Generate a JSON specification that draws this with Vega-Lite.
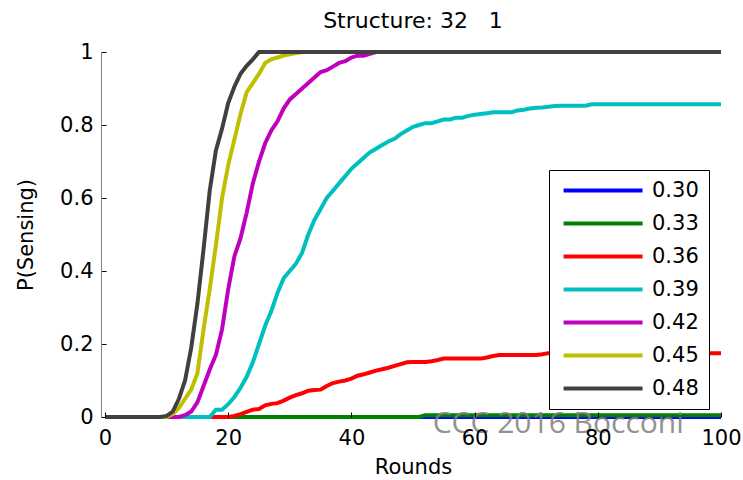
{
  "$schema": "https://vega.github.io/schema/vega-lite/v6.json",
  "autosize": {"type": "none"},
  "padding": {"left": 105, "top": 52, "right": 22, "bottom": 63},
  "width": 616,
  "height": 365,
  "background": "white",
  "title": {"text": "Structure: 32\u00a0\u00a0\u00a01", "font": "DejaVu Sans", "fontSize": 22, "fontWeight": "normal", "color": "black", "offset": 8, "anchor": "middle"},
  "config": {"view": {"stroke": null}, "font": "DejaVu Sans"},
  "layer": [
    {
      "data": {"values": [
        {"s": "0.30", "r": 0, "p": 0}, {"s": "0.30", "r": 50, "p": 0}, {"s": "0.30", "r": 100, "p": 0},
        {"s": "0.33", "r": 0, "p": 0}, {"s": "0.33", "r": 51, "p": 0}, {"s": "0.33", "r": 52, "p": 0.005}, {"s": "0.33", "r": 100, "p": 0.005},
        {"s": "0.36", "r": 0, "p": 0}, {"s": "0.36", "r": 20, "p": 0}, {"s": "0.36", "r": 21, "p": 0.003}, {"s": "0.36", "r": 22, "p": 0.008}, {"s": "0.36", "r": 23, "p": 0.014}, {"s": "0.36", "r": 24, "p": 0.02}, {"s": "0.36", "r": 25, "p": 0.022}, {"s": "0.36", "r": 26, "p": 0.032}, {"s": "0.36", "r": 27, "p": 0.036}, {"s": "0.36", "r": 28, "p": 0.038}, {"s": "0.36", "r": 29, "p": 0.045}, {"s": "0.36", "r": 30, "p": 0.053}, {"s": "0.36", "r": 31, "p": 0.06}, {"s": "0.36", "r": 32, "p": 0.065}, {"s": "0.36", "r": 33, "p": 0.072}, {"s": "0.36", "r": 34, "p": 0.074}, {"s": "0.36", "r": 35, "p": 0.075}, {"s": "0.36", "r": 36, "p": 0.085}, {"s": "0.36", "r": 37, "p": 0.093}, {"s": "0.36", "r": 38, "p": 0.097}, {"s": "0.36", "r": 39, "p": 0.1}, {"s": "0.36", "r": 40, "p": 0.105}, {"s": "0.36", "r": 41, "p": 0.113}, {"s": "0.36", "r": 42, "p": 0.117}, {"s": "0.36", "r": 43, "p": 0.122}, {"s": "0.36", "r": 44, "p": 0.127}, {"s": "0.36", "r": 45, "p": 0.131}, {"s": "0.36", "r": 46, "p": 0.135}, {"s": "0.36", "r": 47, "p": 0.14}, {"s": "0.36", "r": 48, "p": 0.145}, {"s": "0.36", "r": 49, "p": 0.15}, {"s": "0.36", "r": 50, "p": 0.151}, {"s": "0.36", "r": 52, "p": 0.151}, {"s": "0.36", "r": 53, "p": 0.153}, {"s": "0.36", "r": 54, "p": 0.156}, {"s": "0.36", "r": 55, "p": 0.16}, {"s": "0.36", "r": 61, "p": 0.16}, {"s": "0.36", "r": 62, "p": 0.163}, {"s": "0.36", "r": 63, "p": 0.167}, {"s": "0.36", "r": 64, "p": 0.17}, {"s": "0.36", "r": 70, "p": 0.17}, {"s": "0.36", "r": 71, "p": 0.172}, {"s": "0.36", "r": 72, "p": 0.175}, {"s": "0.36", "r": 100, "p": 0.175},
        {"s": "0.39", "r": 0, "p": 0}, {"s": "0.39", "r": 17, "p": 0}, {"s": "0.39", "r": 18, "p": 0.02}, {"s": "0.39", "r": 19, "p": 0.02}, {"s": "0.39", "r": 20, "p": 0.035}, {"s": "0.39", "r": 21, "p": 0.055}, {"s": "0.39", "r": 22, "p": 0.08}, {"s": "0.39", "r": 23, "p": 0.11}, {"s": "0.39", "r": 24, "p": 0.15}, {"s": "0.39", "r": 25, "p": 0.2}, {"s": "0.39", "r": 26, "p": 0.25}, {"s": "0.39", "r": 27, "p": 0.29}, {"s": "0.39", "r": 28, "p": 0.34}, {"s": "0.39", "r": 29, "p": 0.38}, {"s": "0.39", "r": 30, "p": 0.4}, {"s": "0.39", "r": 31, "p": 0.42}, {"s": "0.39", "r": 32, "p": 0.45}, {"s": "0.39", "r": 33, "p": 0.5}, {"s": "0.39", "r": 34, "p": 0.54}, {"s": "0.39", "r": 35, "p": 0.57}, {"s": "0.39", "r": 36, "p": 0.6}, {"s": "0.39", "r": 37, "p": 0.62}, {"s": "0.39", "r": 38, "p": 0.64}, {"s": "0.39", "r": 39, "p": 0.66}, {"s": "0.39", "r": 40, "p": 0.68}, {"s": "0.39", "r": 41, "p": 0.695}, {"s": "0.39", "r": 42, "p": 0.71}, {"s": "0.39", "r": 43, "p": 0.725}, {"s": "0.39", "r": 44, "p": 0.735}, {"s": "0.39", "r": 45, "p": 0.745}, {"s": "0.39", "r": 46, "p": 0.755}, {"s": "0.39", "r": 47, "p": 0.762}, {"s": "0.39", "r": 48, "p": 0.775}, {"s": "0.39", "r": 49, "p": 0.785}, {"s": "0.39", "r": 50, "p": 0.795}, {"s": "0.39", "r": 51, "p": 0.8}, {"s": "0.39", "r": 52, "p": 0.805}, {"s": "0.39", "r": 53, "p": 0.805}, {"s": "0.39", "r": 54, "p": 0.81}, {"s": "0.39", "r": 55, "p": 0.815}, {"s": "0.39", "r": 56, "p": 0.815}, {"s": "0.39", "r": 57, "p": 0.82}, {"s": "0.39", "r": 58, "p": 0.82}, {"s": "0.39", "r": 59, "p": 0.825}, {"s": "0.39", "r": 60, "p": 0.828}, {"s": "0.39", "r": 61, "p": 0.83}, {"s": "0.39", "r": 62, "p": 0.832}, {"s": "0.39", "r": 63, "p": 0.835}, {"s": "0.39", "r": 66, "p": 0.835}, {"s": "0.39", "r": 67, "p": 0.84}, {"s": "0.39", "r": 68, "p": 0.842}, {"s": "0.39", "r": 69, "p": 0.845}, {"s": "0.39", "r": 70, "p": 0.847}, {"s": "0.39", "r": 71, "p": 0.848}, {"s": "0.39", "r": 72, "p": 0.85}, {"s": "0.39", "r": 73, "p": 0.852}, {"s": "0.39", "r": 74, "p": 0.853}, {"s": "0.39", "r": 78, "p": 0.853}, {"s": "0.39", "r": 79, "p": 0.857}, {"s": "0.39", "r": 100, "p": 0.857},
        {"s": "0.42", "r": 0, "p": 0}, {"s": "0.42", "r": 12, "p": 0}, {"s": "0.42", "r": 13, "p": 0.005}, {"s": "0.42", "r": 14, "p": 0.015}, {"s": "0.42", "r": 15, "p": 0.04}, {"s": "0.42", "r": 16, "p": 0.085}, {"s": "0.42", "r": 17, "p": 0.13}, {"s": "0.42", "r": 18, "p": 0.17}, {"s": "0.42", "r": 19, "p": 0.24}, {"s": "0.42", "r": 20, "p": 0.35}, {"s": "0.42", "r": 21, "p": 0.44}, {"s": "0.42", "r": 22, "p": 0.49}, {"s": "0.42", "r": 23, "p": 0.56}, {"s": "0.42", "r": 24, "p": 0.64}, {"s": "0.42", "r": 25, "p": 0.7}, {"s": "0.42", "r": 26, "p": 0.75}, {"s": "0.42", "r": 27, "p": 0.785}, {"s": "0.42", "r": 28, "p": 0.81}, {"s": "0.42", "r": 29, "p": 0.845}, {"s": "0.42", "r": 30, "p": 0.87}, {"s": "0.42", "r": 31, "p": 0.885}, {"s": "0.42", "r": 32, "p": 0.9}, {"s": "0.42", "r": 33, "p": 0.915}, {"s": "0.42", "r": 34, "p": 0.93}, {"s": "0.42", "r": 35, "p": 0.945}, {"s": "0.42", "r": 36, "p": 0.95}, {"s": "0.42", "r": 37, "p": 0.96}, {"s": "0.42", "r": 38, "p": 0.97}, {"s": "0.42", "r": 39, "p": 0.975}, {"s": "0.42", "r": 40, "p": 0.985}, {"s": "0.42", "r": 41, "p": 0.99}, {"s": "0.42", "r": 42, "p": 0.99}, {"s": "0.42", "r": 43, "p": 0.995}, {"s": "0.42", "r": 44, "p": 1}, {"s": "0.42", "r": 100, "p": 1},
        {"s": "0.45", "r": 0, "p": 0}, {"s": "0.45", "r": 10, "p": 0}, {"s": "0.45", "r": 11, "p": 0.008}, {"s": "0.45", "r": 12, "p": 0.025}, {"s": "0.45", "r": 13, "p": 0.05}, {"s": "0.45", "r": 14, "p": 0.075}, {"s": "0.45", "r": 15, "p": 0.12}, {"s": "0.45", "r": 16, "p": 0.24}, {"s": "0.45", "r": 17, "p": 0.35}, {"s": "0.45", "r": 18, "p": 0.47}, {"s": "0.45", "r": 19, "p": 0.6}, {"s": "0.45", "r": 20, "p": 0.69}, {"s": "0.45", "r": 21, "p": 0.76}, {"s": "0.45", "r": 22, "p": 0.83}, {"s": "0.45", "r": 23, "p": 0.89}, {"s": "0.45", "r": 24, "p": 0.915}, {"s": "0.45", "r": 25, "p": 0.94}, {"s": "0.45", "r": 26, "p": 0.97}, {"s": "0.45", "r": 27, "p": 0.98}, {"s": "0.45", "r": 28, "p": 0.985}, {"s": "0.45", "r": 29, "p": 0.99}, {"s": "0.45", "r": 30, "p": 0.994}, {"s": "0.45", "r": 31, "p": 0.997}, {"s": "0.45", "r": 32, "p": 1}, {"s": "0.45", "r": 100, "p": 1},
        {"s": "0.48", "r": 0, "p": 0}, {"s": "0.48", "r": 9, "p": 0}, {"s": "0.48", "r": 10, "p": 0.003}, {"s": "0.48", "r": 11, "p": 0.015}, {"s": "0.48", "r": 12, "p": 0.05}, {"s": "0.48", "r": 13, "p": 0.1}, {"s": "0.48", "r": 14, "p": 0.19}, {"s": "0.48", "r": 15, "p": 0.31}, {"s": "0.48", "r": 16, "p": 0.46}, {"s": "0.48", "r": 17, "p": 0.62}, {"s": "0.48", "r": 18, "p": 0.73}, {"s": "0.48", "r": 19, "p": 0.79}, {"s": "0.48", "r": 20, "p": 0.86}, {"s": "0.48", "r": 21, "p": 0.905}, {"s": "0.48", "r": 22, "p": 0.94}, {"s": "0.48", "r": 23, "p": 0.962}, {"s": "0.48", "r": 24, "p": 0.98}, {"s": "0.48", "r": 25, "p": 1}, {"s": "0.48", "r": 100, "p": 1}
      ]},
      "mark": {"type": "line", "strokeWidth": 4},
      "encoding": {
        "x": {"field": "r", "type": "quantitative", "scale": {"domain": [0, 100], "nice": false, "zero": false},
          "axis": {"title": "Rounds", "values": [0, 20, 40, 60, 80, 100], "grid": false, "domain": false, "tickSize": -5, "tickColor": "black", "labelPadding": 15, "labelFontSize": 21, "labelFont": "DejaVu Sans", "labelColor": "black", "labelFlush": false, "labelOverlap": false, "titleFont": "DejaVu Sans", "titleFontSize": 21, "titleFontWeight": "normal", "titleColor": "black", "titlePadding": 8, "zindex": 1}},
        "y": {"field": "p", "type": "quantitative", "scale": {"domain": [0, 1], "nice": false},
          "axis": {"title": "P(Sensing)", "values": [0, 0.2, 0.4, 0.6, 0.8, 1], "format": "~g", "grid": false, "offset": 4, "domainColor": "#808080", "tickSize": -5, "tickColor": "black", "labelPadding": 13, "labelFontSize": 21, "labelFont": "DejaVu Sans", "labelColor": "black", "labelFlush": false, "labelOverlap": false, "titleFont": "DejaVu Sans", "titleFontSize": 21, "titleFontWeight": "normal", "titleColor": "black", "titlePadding": 23}},
        "color": {"field": "s", "type": "nominal",
          "scale": {"domain": ["0.30", "0.33", "0.36", "0.39", "0.42", "0.45", "0.48"], "range": ["#0000ff", "#008000", "#ff0000", "#00bfbf", "#bf00bf", "#bfbf00", "#404040"]},
          "legend": {"orient": "none", "legendX": 444, "legendY": 118, "title": null, "padding": 10, "strokeColor": "black", "fillColor": "white", "symbolType": "M-1.2,0H14.8", "symbolSize": 97.5, "symbolStrokeWidth": 4, "labelFontSize": 21, "labelFont": "DejaVu Sans", "labelColor": "black", "labelOffset": 72, "rowPadding": 11}}
      }
    },
    {
      "data": {"values": [{"r": 53.2, "p": -0.044, "t": "CCC 2016 Bocconi"}]},
      "mark": {"type": "text", "font": "Open Sans", "fontSize": 30, "align": "left", "baseline": "alphabetic", "color": "#808080", "opacity": 0.85},
      "encoding": {
        "x": {"field": "r", "type": "quantitative"},
        "y": {"field": "p", "type": "quantitative"},
        "text": {"field": "t"}
      }
    }
  ]
}
